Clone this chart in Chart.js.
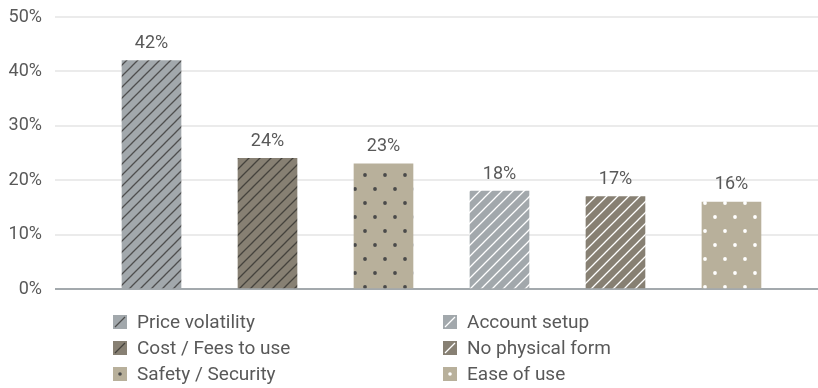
<!DOCTYPE html>
<html>
<head>
<meta charset="utf-8">
<script src="https://cdn.jsdelivr.net/npm/chart.js@4"></script>
<style>
  html, body { margin: 0; padding: 0; background: #fff; }
  #wrap { width: 818px; height: 388px; }
</style>
</head>
<body>
<div id="wrap"><canvas id="reasons" width="818" height="388"></canvas></div>
<script>
// data
var categories = ["Price volatility", "Cost / Fees to use", "Safety / Security", "Account setup", "No physical form", "Ease of use"];
var shares = [42, 24, 23, 18, 17, 16];
var yTicks = [0, 10, 20, 30, 40, 50];

// bar looks: base colour, pattern kind, ink colour
var looks = [
    { base: "#a2a8ac", kind: "lines", ink: "#4e4e4e" },
    { base: "#878073", kind: "lines", ink: "#45423d" },
    { base: "#b8b09b", kind: "dots",  ink: "#4a4a4a" },
    { base: "#a2a8ac", kind: "lines", ink: "#ffffff" },
    { base: "#878073", kind: "lines", ink: "#ffffff" },
    { base: "#b8b09b", kind: "dots",  ink: "#ffffff" }
];

var textColor = "#595959";
var fontFamily = "Roboto, 'Noto Sans', sans-serif";

function makePattern(look) {
    var tile = document.createElement("canvas");
    var c = tile.getContext("2d");
    if (look.kind === "lines") {
        var s = 11;
        tile.width = s; tile.height = s;
        c.fillStyle = look.base;
        c.fillRect(0, 0, s, s);
        c.strokeStyle = look.ink;
        c.lineWidth = 1.3;
        c.beginPath();
        c.moveTo(-1, s + 1); c.lineTo(s + 1, -1);
        c.moveTo(-1, 1); c.lineTo(1, -1);
        c.moveTo(s - 1, s + 1); c.lineTo(s + 1, s - 1);
        c.stroke();
    } else {
        tile.width = 20; tile.height = 28;
        c.fillStyle = look.base;
        c.fillRect(0, 0, 20, 28);
        c.fillStyle = look.ink;
        c.beginPath(); c.arc(5, 7, 1.9, 0, Math.PI * 2); c.fill();
        c.beginPath(); c.arc(15, 21, 1.9, 0, Math.PI * 2); c.fill();
    }
    var ctx = document.createElement("canvas").getContext("2d");
    return ctx.createPattern(tile, "repeat");
}

var fills = looks.map(makePattern);

// value labels above bars
var valueLabels = {
    id: "valueLabels",
    afterDatasetsDraw: function(chart) {
        var ctx = chart.ctx;
        var meta = chart.getDatasetMeta(0);
        ctx.save();
        ctx.font = "18px " + fontFamily;
        ctx.fillStyle = textColor;
        ctx.textAlign = "center";
        ctx.textBaseline = "middle";
        meta.data.forEach(function(bar, i) {
            ctx.fillText(shares[i] + "%", bar.x, bar.y - 17);
        });
        ctx.restore();
    }
};

// two-column legend under the plot
var sideLegend = {
    id: "sideLegend",
    afterDraw: function(chart) {
        var ctx = chart.ctx;
        var cols = [113, 443];
        var rows = [322, 348, 374];
        ctx.save();
        ctx.font = "19px " + fontFamily;
        ctx.textBaseline = "middle";
        categories.forEach(function(name, i) {
            var col = Math.floor(i / 3), row = i % 3;
            var x = cols[col], y = rows[row];
            var look = looks[i];
            ctx.fillStyle = look.base;
            ctx.fillRect(x, y - 7, 14, 14);
            if (look.kind === "lines") {
                ctx.strokeStyle = look.ink;
                ctx.lineWidth = 1.3;
                ctx.beginPath();
                ctx.moveTo(x + 2, y + 5);
                ctx.lineTo(x + 12, y - 5);
                ctx.stroke();
            } else {
                ctx.fillStyle = look.ink;
                ctx.beginPath();
                ctx.arc(x + 7, y, 1.8, 0, Math.PI * 2);
                ctx.fill();
            }
            ctx.fillStyle = textColor;
            ctx.fillText(name, x + 24, y + 1);
        });
        ctx.restore();
    }
};

new Chart(document.getElementById("reasons").getContext("2d"), {
    type: "bar",
    data: {
        datasets: [{
            data: shares.map(function(v, i) { return { x: i, y: v }; }),
            backgroundColor: fills,
            borderWidth: 0,
            barThickness: 59
        }]
    },
    options: {
        responsive: false,
        animation: false,
        layout: { padding: { top: 17, right: 0, bottom: 99, left: 0 } },
        plugins: { legend: { display: false }, tooltip: { enabled: false } },
        scales: {
            x: {
                type: "linear",
                offset: false,
                min: -0.832,
                max: 5.746,
                display: false
            },
            y: {
                min: 0,
                max: 50,
                afterFit: function(scale) {
                    scale.width = 55;
                    scale.paddingTop = 0;
                    scale.paddingBottom = 0;
                },
                afterBuildTicks: function(scale) {
                    scale.ticks = yTicks.map(function(v) { return { value: v }; });
                },
                border: { display: false },
                grid: {
                    drawTicks: false,
                    lineWidth: 2,
                    color: function(c) { return c.tick && c.tick.value === 0 ? "#a3a9ad" : "#ebebeb"; }
                },
                ticks: {
                    padding: 13,
                    color: textColor,
                    font: { family: fontFamily, size: 18 },
                    callback: function(v) { return v + "%"; }
                }
            }
        }
    },
    plugins: [valueLabels, sideLegend]
});
</script>
</body>
</html>
